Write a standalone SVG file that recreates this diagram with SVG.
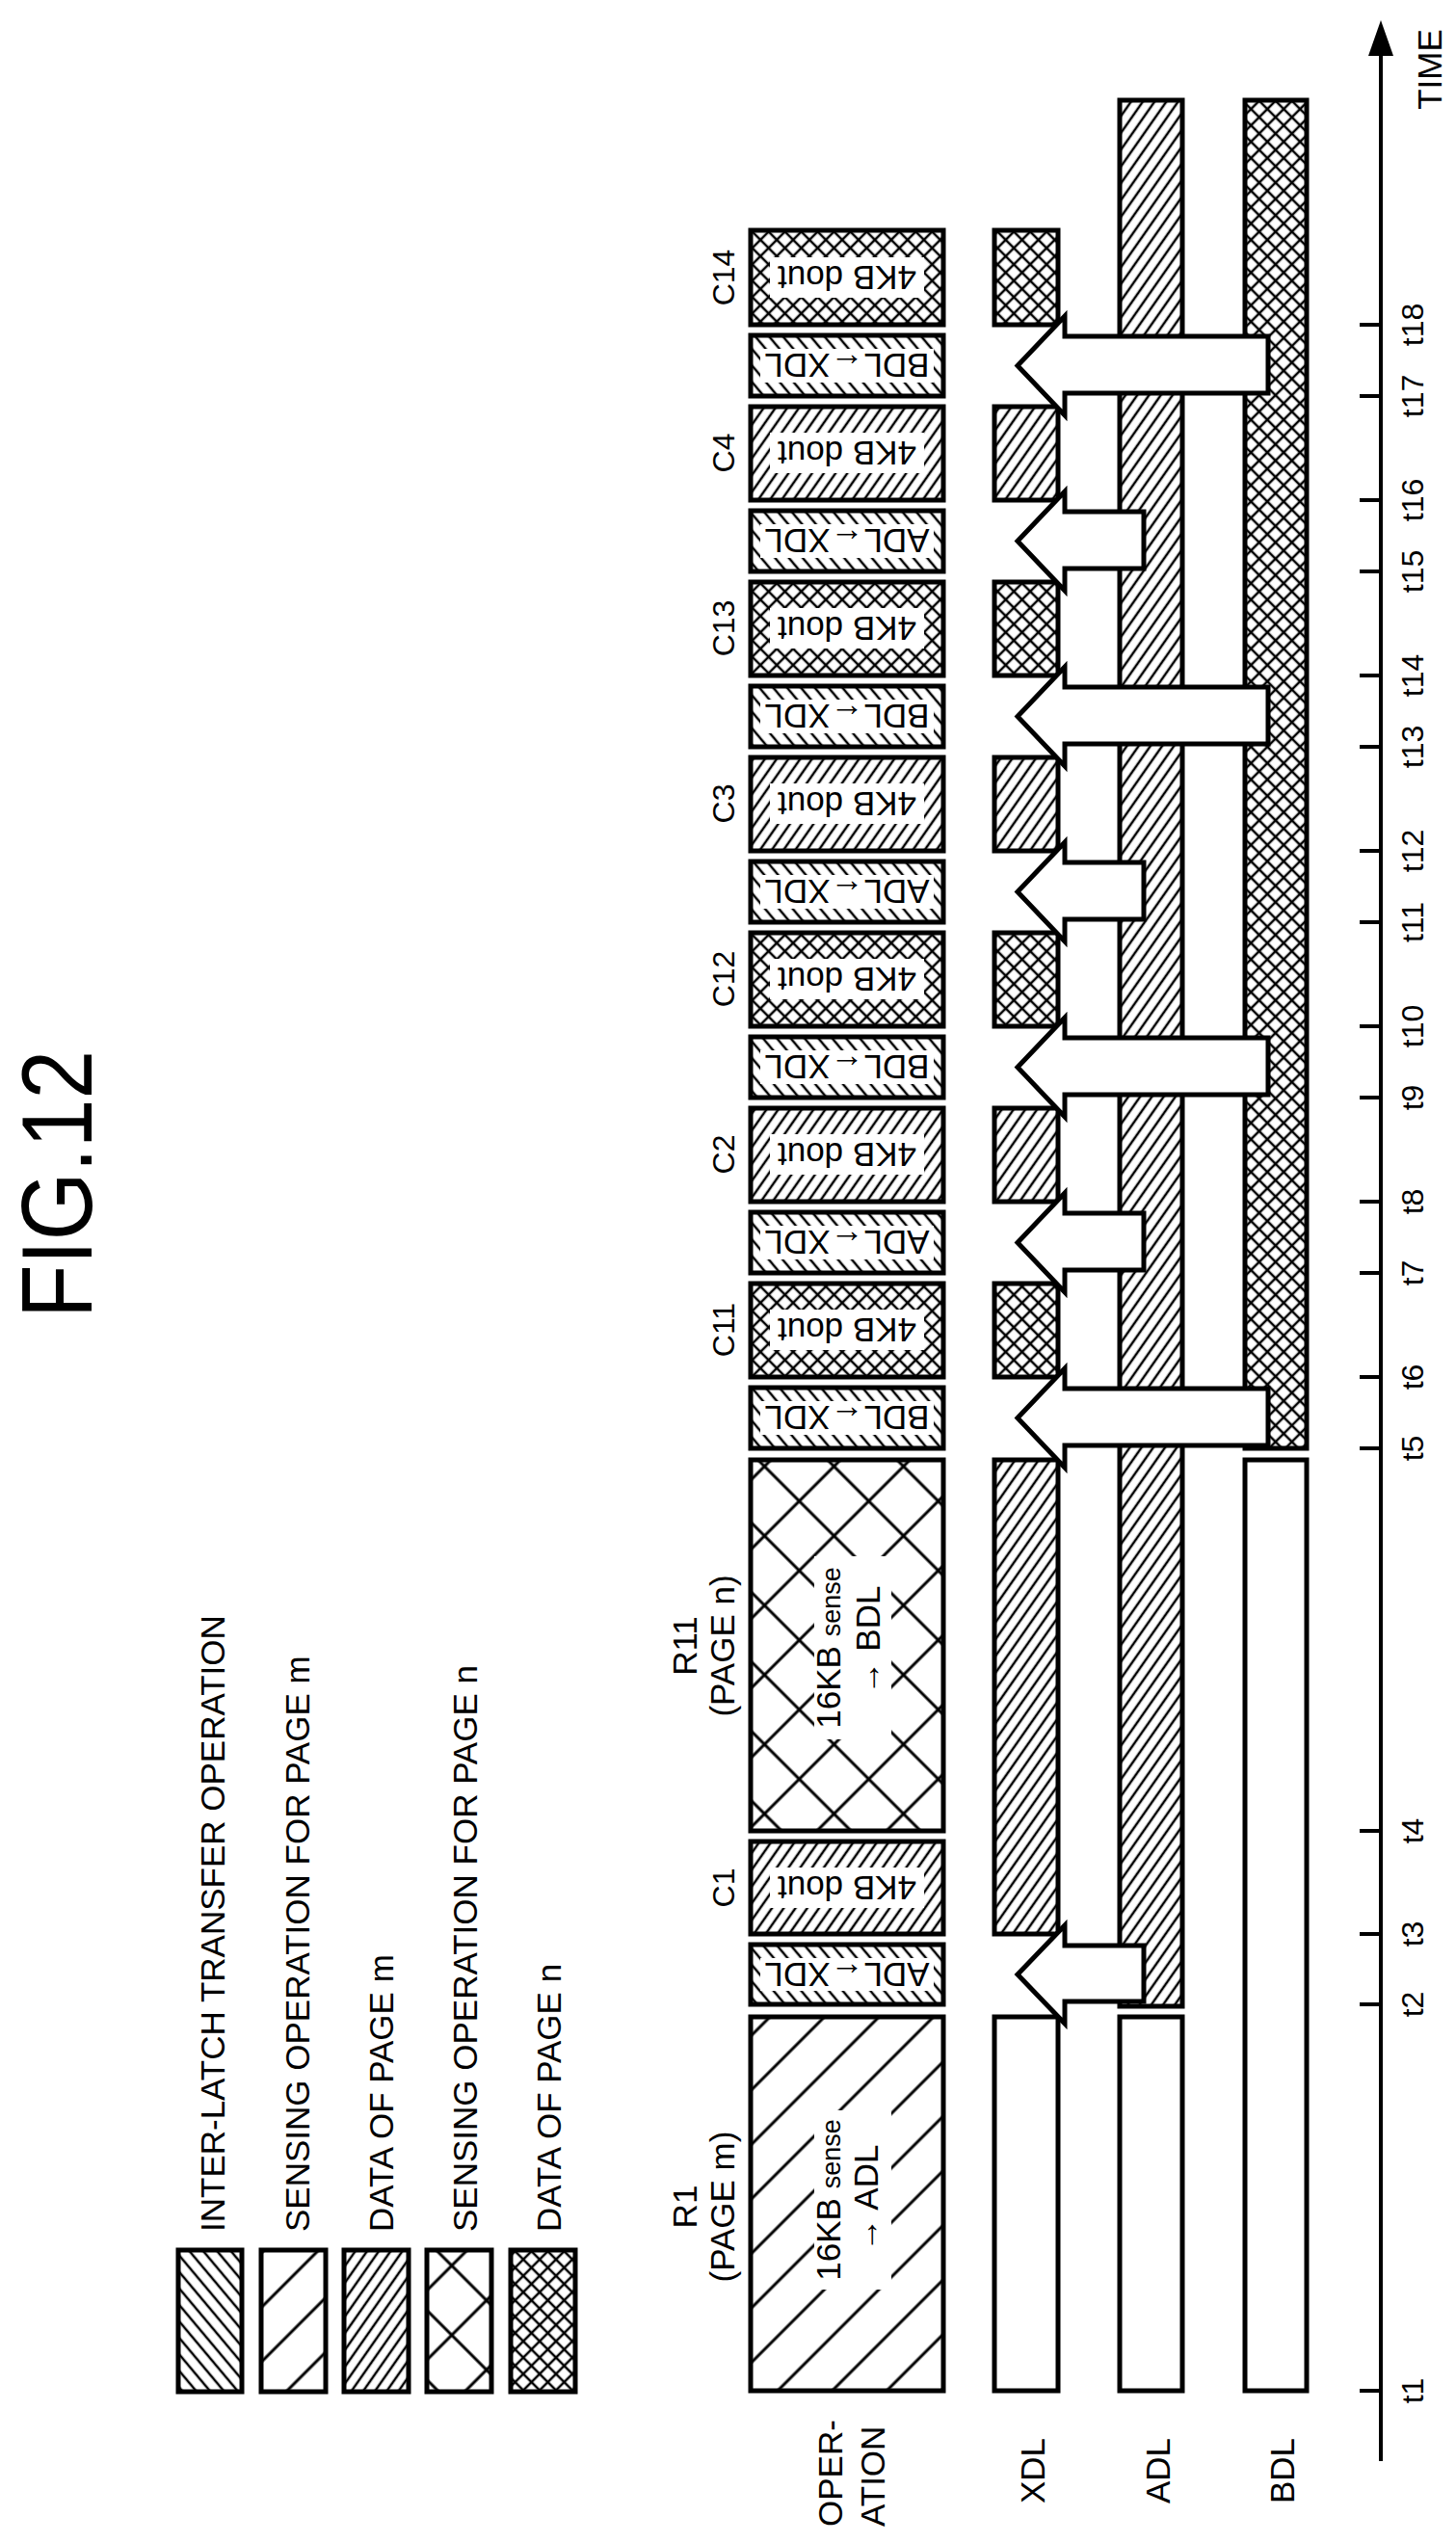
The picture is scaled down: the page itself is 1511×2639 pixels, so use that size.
<svg xmlns="http://www.w3.org/2000/svg" width="1511" height="2639" viewBox="0 0 1511 2639">
<style>
text{font-family:"Liberation Sans",Arial,sans-serif;fill:#000}
.b{stroke:#000;stroke-width:5}
.w{fill:#fff;stroke:none}
.lg{font-size:35px}
.bt{font-size:35px}
.tk{font-size:32px}
.ar{fill:#fff;stroke:#000;stroke-width:5;stroke-linejoin:miter}
</style>
<defs>
<pattern id="trans" width="11" height="11" patternUnits="userSpaceOnUse" patternTransform="rotate(-40)"><line x1="2" y1="0" x2="2" y2="11" stroke="#000" stroke-width="2.5"/></pattern>
<pattern id="datam" width="10" height="10" patternUnits="userSpaceOnUse" patternTransform="rotate(35)"><line x1="2" y1="0" x2="2" y2="10" stroke="#000" stroke-width="2.5"/></pattern>
<pattern id="datan" width="12" height="12" patternUnits="userSpaceOnUse" patternTransform="rotate(45)"><path d="M2 0V12M0 2H12" stroke="#000" stroke-width="2.5"/></pattern>
<pattern id="sensem" width="40" height="40" patternUnits="userSpaceOnUse" patternTransform="rotate(45)"><line x1="5" y1="0" x2="5" y2="40" stroke="#000" stroke-width="3"/></pattern>
<pattern id="sensen" width="51" height="51" patternUnits="userSpaceOnUse" patternTransform="rotate(45)"><path d="M5 0V51M0 5H51" stroke="#000" stroke-width="3"/></pattern>
</defs>

<text x="0" y="0" transform="translate(95,1229) rotate(-90)" text-anchor="middle" font-size="104" textLength="278" lengthAdjust="spacingAndGlyphs">FIG.12</text>

<g id="legend">
<rect class="b" x="185" y="2335" width="66" height="147" fill="url(#trans)"/>
<rect class="b" x="271" y="2335" width="67" height="147" fill="url(#sensem)"/>
<rect class="b" x="357" y="2335" width="67" height="147" fill="url(#datam)"/>
<rect class="b" x="443" y="2335" width="67" height="147" fill="url(#sensen)"/>
<rect class="b" x="530" y="2335" width="67" height="147" fill="url(#datan)"/>
<text class="lg" transform="translate(233,2316) rotate(-90)">INTER-LATCH TRANSFER OPERATION</text>
<text class="lg" transform="translate(321,2316) rotate(-90)">SENSING OPERATION FOR PAGE m</text>
<text class="lg" transform="translate(408,2316) rotate(-90)">DATA OF PAGE m</text>
<text class="lg" transform="translate(495,2316) rotate(-90)">SENSING OPERATION FOR PAGE n</text>
<text class="lg" transform="translate(582,2316) rotate(-90)">DATA OF PAGE n</text>
</g>

<g id="row-labels">
<text class="lg" transform="translate(874,2622) rotate(-90)">OPER-</text>
<text class="lg" transform="translate(918,2622) rotate(-90)">ATION</text>
<text class="lg" transform="translate(1084,2598) rotate(-90)">XDL</text>
<text class="lg" transform="translate(1214,2598) rotate(-90)">ADL</text>
<text class="lg" transform="translate(1343,2598) rotate(-90)">BDL</text>
</g>

<g id="R1">
<rect class="b" x="779" y="2093" width="200" height="388" fill="url(#sensem)"/>
<rect class="w" x="845" y="2190" width="80" height="186"/>
<text class="lg" transform="translate(723,2290) rotate(-90)" text-anchor="middle">R1</text>
<text class="lg" transform="translate(762,2290) rotate(-90)" text-anchor="middle">(PAGE m)</text>
<text class="lg" transform="translate(872,2283) rotate(-90)" text-anchor="middle">16KB <tspan font-size="27">sense</tspan></text>
<text class="lg" transform="translate(911,2281) rotate(-90)" text-anchor="middle">→ ADL</text>
</g>

<g id="R11">
<rect class="b" x="779" y="1515" width="200" height="385" fill="url(#sensen)"/>
<rect class="w" x="845" y="1615" width="80" height="190"/>
<text class="lg" transform="translate(723,1708) rotate(-90)" text-anchor="middle">R11</text>
<text class="lg" transform="translate(762,1708) rotate(-90)" text-anchor="middle">(PAGE n)</text>
<text class="lg" transform="translate(872,1710) rotate(-90)" text-anchor="middle">16KB <tspan font-size="27">sense</tspan></text>
<text class="lg" transform="translate(913,1702) rotate(-90)" text-anchor="middle">→ BDL</text>
</g>

<g id="dout-boxes">
<g id="C14"><rect class="b" x="779" y="239" width="200" height="98" fill="url(#datan)"/><rect class="w" x="799" y="267" width="160" height="42"/><text class="bt" transform="translate(879,288) rotate(180)" text-anchor="middle" dominant-baseline="central">4KB dout</text><text class="tk" transform="translate(762,288) rotate(-90)" text-anchor="middle">C14</text></g>
<g id="C4"><rect class="b" x="779" y="422" width="200" height="97" fill="url(#datam)"/><rect class="w" x="799" y="449" width="160" height="42"/><text class="bt" transform="translate(879,470) rotate(180)" text-anchor="middle" dominant-baseline="central">4KB dout</text><text class="tk" transform="translate(762,470) rotate(-90)" text-anchor="middle">C4</text></g>
<g id="C13"><rect class="b" x="779" y="604" width="200" height="97" fill="url(#datan)"/><rect class="w" x="799" y="631" width="160" height="42"/><text class="bt" transform="translate(879,652) rotate(180)" text-anchor="middle" dominant-baseline="central">4KB dout</text><text class="tk" transform="translate(762,652) rotate(-90)" text-anchor="middle">C13</text></g>
<g id="C3"><rect class="b" x="779" y="786" width="200" height="97" fill="url(#datam)"/><rect class="w" x="799" y="813" width="160" height="42"/><text class="bt" transform="translate(879,834) rotate(180)" text-anchor="middle" dominant-baseline="central">4KB dout</text><text class="tk" transform="translate(762,834) rotate(-90)" text-anchor="middle">C3</text></g>
<g id="C12"><rect class="b" x="779" y="968" width="200" height="97" fill="url(#datan)"/><rect class="w" x="799" y="995" width="160" height="42"/><text class="bt" transform="translate(879,1016) rotate(180)" text-anchor="middle" dominant-baseline="central">4KB dout</text><text class="tk" transform="translate(762,1016) rotate(-90)" text-anchor="middle">C12</text></g>
<g id="C2"><rect class="b" x="779" y="1150" width="200" height="97" fill="url(#datam)"/><rect class="w" x="799" y="1177" width="160" height="42"/><text class="bt" transform="translate(879,1198) rotate(180)" text-anchor="middle" dominant-baseline="central">4KB dout</text><text class="tk" transform="translate(762,1198) rotate(-90)" text-anchor="middle">C2</text></g>
<g id="C11"><rect class="b" x="779" y="1332" width="200" height="97" fill="url(#datan)"/><rect class="w" x="799" y="1359" width="160" height="42"/><text class="bt" transform="translate(879,1380) rotate(180)" text-anchor="middle" dominant-baseline="central">4KB dout</text><text class="tk" transform="translate(762,1380) rotate(-90)" text-anchor="middle">C11</text></g>
<g id="C1"><rect class="b" x="779" y="1911" width="200" height="96" fill="url(#datam)"/><rect class="w" x="799" y="1938" width="160" height="42"/><text class="bt" transform="translate(879,1959) rotate(180)" text-anchor="middle" dominant-baseline="central">4KB dout</text><text class="tk" transform="translate(762,1959) rotate(-90)" text-anchor="middle">C1</text></g>
</g>

<g id="transfer-boxes">
<g><rect class="b" x="779" y="348" width="200" height="63" fill="url(#trans)"/><rect class="w" x="789" y="362" width="180" height="35"/><text class="bt" transform="translate(879,379.5) rotate(180)" text-anchor="middle" dominant-baseline="central">BDL←XDL</text></g>
<g><rect class="b" x="779" y="530" width="200" height="63" fill="url(#trans)"/><rect class="w" x="789" y="544" width="180" height="35"/><text class="bt" transform="translate(879,561.5) rotate(180)" text-anchor="middle" dominant-baseline="central">ADL←XDL</text></g>
<g><rect class="b" x="779" y="712" width="200" height="63" fill="url(#trans)"/><rect class="w" x="789" y="726" width="180" height="35"/><text class="bt" transform="translate(879,743.5) rotate(180)" text-anchor="middle" dominant-baseline="central">BDL←XDL</text></g>
<g><rect class="b" x="779" y="894" width="200" height="63" fill="url(#trans)"/><rect class="w" x="789" y="908" width="180" height="35"/><text class="bt" transform="translate(879,925.5) rotate(180)" text-anchor="middle" dominant-baseline="central">ADL←XDL</text></g>
<g><rect class="b" x="779" y="1076" width="200" height="63" fill="url(#trans)"/><rect class="w" x="789" y="1090" width="180" height="35"/><text class="bt" transform="translate(879,1107.5) rotate(180)" text-anchor="middle" dominant-baseline="central">BDL←XDL</text></g>
<g><rect class="b" x="779" y="1258" width="200" height="63" fill="url(#trans)"/><rect class="w" x="789" y="1272" width="180" height="35"/><text class="bt" transform="translate(879,1289.5) rotate(180)" text-anchor="middle" dominant-baseline="central">ADL←XDL</text></g>
<g><rect class="b" x="779" y="1440" width="200" height="63" fill="url(#trans)"/><rect class="w" x="789" y="1454" width="180" height="35"/><text class="bt" transform="translate(879,1471.5) rotate(180)" text-anchor="middle" dominant-baseline="central">BDL←XDL</text></g>
<g><rect class="b" x="779" y="2018" width="200" height="62" fill="url(#trans)"/><rect class="w" x="789" y="2032" width="180" height="34"/><text class="bt" transform="translate(879,2049) rotate(180)" text-anchor="middle" dominant-baseline="central">ADL←XDL</text></g>
</g>

<g id="latches">
<rect class="b" x="1162" y="104" width="65" height="1978" fill="url(#datam)"/>
<rect class="b" x="1292" y="104" width="64" height="1399" fill="url(#datan)"/>
<rect class="b" x="1292" y="1515" width="64" height="966" fill="#fff"/>
<rect class="b" x="1032" y="1515" width="66" height="492" fill="url(#datam)"/>
<rect class="b" x="1032" y="2093" width="66" height="388" fill="#fff"/>
<rect class="b" x="1162" y="2093" width="65" height="388" fill="#fff"/>
<rect class="b" x="1032" y="239" width="66" height="98" fill="url(#datan)"/>
<rect class="b" x="1032" y="422" width="66" height="97" fill="url(#datam)"/>
<rect class="b" x="1032" y="604" width="66" height="97" fill="url(#datan)"/>
<rect class="b" x="1032" y="786" width="66" height="97" fill="url(#datam)"/>
<rect class="b" x="1032" y="968" width="66" height="97" fill="url(#datan)"/>
<rect class="b" x="1032" y="1150" width="66" height="97" fill="url(#datam)"/>
<rect class="b" x="1032" y="1332" width="66" height="97" fill="url(#datan)"/>
</g>

<g id="connectors">
<polygon class="ar" points="1056,379.5 1105,328 1105,349 1316,349 1316,408 1105,408 1105,431"/>
<polygon class="ar" points="1056,561.5 1105,510 1105,531 1187,531 1187,590 1105,590 1105,613"/>
<polygon class="ar" points="1056,743.5 1105,692 1105,713 1316,713 1316,772 1105,772 1105,795"/>
<polygon class="ar" points="1056,925.5 1105,874 1105,895 1187,895 1187,954 1105,954 1105,977"/>
<polygon class="ar" points="1056,1107.5 1105,1056 1105,1077 1316,1077 1316,1136 1105,1136 1105,1159"/>
<polygon class="ar" points="1056,1289.5 1105,1238 1105,1259 1187,1259 1187,1318 1105,1318 1105,1341"/>
<polygon class="ar" points="1056,1471.5 1105,1420 1105,1441 1316,1441 1316,1500 1105,1500 1105,1523"/>
<polygon class="ar" points="1056,2049 1105,1998 1105,2019 1187,2019 1187,2077 1105,2077 1105,2100"/>
</g>

<g id="time-axis">
<line x1="1433" y1="50" x2="1433" y2="2554" stroke="#000" stroke-width="4"/>
<polygon points="1433,21 1420,58 1446,58" fill="#000"/>
<text class="lg" transform="translate(1496,72) rotate(-90)" text-anchor="middle">TIME</text>
<path stroke="#000" stroke-width="4" d="M1411 2481H1433M1411 2080H1433M1411 2007H1433M1411 1900H1433M1411 1503H1433M1411 1429H1433M1411 1321H1433M1411 1247H1433M1411 1139H1433M1411 1065H1433M1411 957H1433M1411 883H1433M1411 775H1433M1411 701H1433M1411 593H1433M1411 519H1433M1411 411H1433M1411 337H1433"/>
<text class="tk" transform="translate(1477,2481) rotate(-90)" text-anchor="middle">t1</text>
<text class="tk" transform="translate(1477,2080) rotate(-90)" text-anchor="middle">t2</text>
<text class="tk" transform="translate(1477,2007) rotate(-90)" text-anchor="middle">t3</text>
<text class="tk" transform="translate(1477,1900) rotate(-90)" text-anchor="middle">t4</text>
<text class="tk" transform="translate(1477,1503) rotate(-90)" text-anchor="middle">t5</text>
<text class="tk" transform="translate(1477,1429) rotate(-90)" text-anchor="middle">t6</text>
<text class="tk" transform="translate(1477,1321) rotate(-90)" text-anchor="middle">t7</text>
<text class="tk" transform="translate(1477,1247) rotate(-90)" text-anchor="middle">t8</text>
<text class="tk" transform="translate(1477,1139) rotate(-90)" text-anchor="middle">t9</text>
<text class="tk" transform="translate(1477,1065) rotate(-90)" text-anchor="middle">t10</text>
<text class="tk" transform="translate(1477,957) rotate(-90)" text-anchor="middle">t11</text>
<text class="tk" transform="translate(1477,883) rotate(-90)" text-anchor="middle">t12</text>
<text class="tk" transform="translate(1477,775) rotate(-90)" text-anchor="middle">t13</text>
<text class="tk" transform="translate(1477,701) rotate(-90)" text-anchor="middle">t14</text>
<text class="tk" transform="translate(1477,593) rotate(-90)" text-anchor="middle">t15</text>
<text class="tk" transform="translate(1477,519) rotate(-90)" text-anchor="middle">t16</text>
<text class="tk" transform="translate(1477,411) rotate(-90)" text-anchor="middle">t17</text>
<text class="tk" transform="translate(1477,337) rotate(-90)" text-anchor="middle">t18</text>
</g>
</svg>
